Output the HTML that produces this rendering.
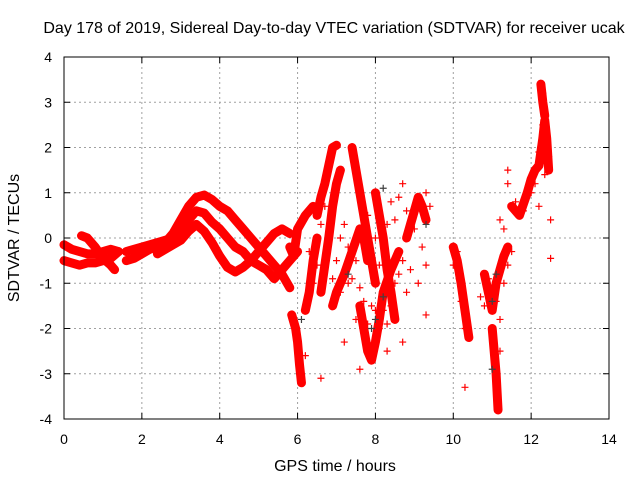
<!DOCTYPE html>
<html><head><meta charset="utf-8"><style>
body{margin:0;background:#fff}
svg{display:block;font-family:"Liberation Sans",sans-serif}
</style></head><body>
<svg id="c" width="640" height="480">
<rect width="640" height="480" fill="#fff"/>
<text x="334" y="33" font-size="16" text-anchor="middle">Day 178 of 2019, Sidereal Day-to-day VTEC variation (SDTVAR) for receiver ucak</text>
<text x="335" y="471" font-size="16" text-anchor="middle">GPS time / hours</text>
<text transform="translate(19,238) rotate(-90)" font-size="16" text-anchor="middle">SDTVAR / TECUs</text>
<g id="grid"></g><g id="marks"></g><g id="axes"></g>
</svg>
<script>
const xTicks=[0,2,4,6,8,10,12,14];
const yTicks=[-4,-3,-2,-1,0,1,2,3,4];
const arcA=[[0,-0.5],[0.2,-0.55],[0.4,-0.6],[0.6,-0.55],[0.8,-0.55],[1.0,-0.5],[1.2,-0.45],[1.4,-0.3]];
const arcB=[[0,-0.15],[0.2,-0.25],[0.4,-0.3],[0.6,-0.35],[0.8,-0.35],[1.0,-0.3],[1.2,-0.25],[1.4,-0.3]];
const arcC=[[0.45,0.05],[0.6,0],[0.8,-0.2],[1.0,-0.45],[1.2,-0.6],[1.3,-0.7]];
const arcD=[[1.6,-0.5],[1.8,-0.45],[2.0,-0.35],[2.2,-0.25],[2.4,-0.2],[2.6,-0.1],[2.8,0.1],[3.0,0.4],[3.2,0.7],[3.4,0.9],[3.6,0.95],[3.8,0.85],[4.0,0.7],[4.2,0.6],[4.4,0.4],[4.6,0.2],[4.8,0],[5.0,-0.2],[5.2,-0.4],[5.4,-0.6],[5.6,-0.8],[5.8,-1.1]];
const arcE=[[1.6,-0.3],[2.0,-0.2],[2.4,-0.1],[2.8,0],[3.0,0.2],[3.2,0.4],[3.4,0.6],[3.6,0.55],[3.8,0.35],[4.0,0.2],[4.2,0],[4.4,-0.2],[4.6,-0.3],[4.8,-0.5],[5.0,-0.6],[5.2,-0.7],[5.4,-0.9],[5.6,-0.7],[5.8,-0.5],[6.0,-0.3]];
const arcF=[[2.4,-0.35],[2.8,-0.15],[3.0,-0.05],[3.2,0.15],[3.4,0.3],[3.6,0.15],[3.8,-0.1],[4.0,-0.4],[4.2,-0.65],[4.4,-0.75],[4.6,-0.65],[4.8,-0.5],[5.0,-0.3],[5.2,-0.1],[5.4,0.1],[5.6,0.2],[5.8,0.1]];
const arcG=[[5.8,-0.2],[5.9,-0.4],[6.0,0.2],[6.2,0.5],[6.4,0.7]];
const arcH=[[5.85,-1.7],[5.95,-2.0],[6.0,-2.3],[6.05,-2.8],[6.1,-3.2]];
const arcI=[[6.2,-1.6],[6.3,-1.2],[6.4,-0.5],[6.5,0]];
const arcJ=[[6.5,0.5],[6.6,0.9],[6.7,1.2],[6.8,1.6],[6.9,2.0],[7.0,2.05]];
const arcK=[[6.6,-1.2],[6.7,-0.6],[6.8,0],[6.9,0.7],[7.0,1.2],[7.1,1.5]];
const arcL=[[6.9,-1.5],[7.0,-1.2],[7.2,-0.8],[7.4,-0.3],[7.6,0.2],[7.7,0.0],[7.8,-0.5]];
const arcM=[[7.4,2.0],[7.5,1.5],[7.6,1.0],[7.7,0.5],[7.8,0],[7.9,-0.5],[8.0,-1.0]];
const arcN=[[7.6,-1.5],[7.7,-2.0],[7.8,-2.5],[7.9,-2.7],[8.0,-2.3],[8.1,-1.8],[8.2,-1.2],[8.4,-0.7],[8.6,-0.3]];
const arcO=[[8.0,1.0],[8.1,0.5],[8.2,0],[8.3,-0.7],[8.4,-1.2],[8.5,-1.8]];
const arcP=[[8.8,0],[8.9,0.3],[9.0,0.6],[9.1,0.9],[9.2,0.7],[9.3,0.4]];
const arcQ=[[10.0,-0.2],[10.1,-0.5],[10.2,-1.0],[10.3,-1.6],[10.4,-2.2]];
const arcR=[[10.8,-0.8],[10.9,-1.2],[11.0,-1.6],[11.1,-1.0],[11.2,-0.7],[11.3,-0.4],[11.4,-0.2]];
const arcS=[[11.0,-2.0],[11.1,-3.0],[11.15,-3.8]];
const arcT=[[11.5,0.7],[11.7,0.5],[11.9,1.0],[12.0,1.3],[12.1,1.5],[12.2,1.6],[12.3,2.2],[12.35,2.6],[12.4,2.2],[12.45,1.5]];
const arcU=[[12.25,3.4],[12.3,3.0],[12.35,2.7]];
const arcs=[arcA,arcB,arcC,arcD,arcE,arcF,arcG,arcH,arcI,arcJ,arcK,arcL,arcM,arcN,arcO,arcP,arcQ,arcR,arcS,arcT,arcU];
const scatter=[[6.2,-2.6],[6.6,-3.1],[7.6,-2.9],[8.3,-2.5],[9.3,-1.7],[10.3,-3.3],[11.2,-2.5],[12.5,0.4],[12.5,-0.45],[11.4,1.5],[8.7,-2.3],[9.1,-1.0],[7.2,-2.3],
[6.4,-1.0],[6.5,-0.6],[6.3,-0.3],[6.6,0.3],[6.7,0.7],[6.9,-0.9],[7.0,-0.5],[7.1,0.0],[7.2,0.3],[7.3,-0.2],[7.3,-1.0],[7.1,-1.2],[7.4,-0.9],[7.5,-0.5],[7.6,-1.1],[7.5,-1.8],[7.7,-1.4],[7.8,-1.9],[7.9,-1.5],[8.0,-1.6],[8.1,-2.0],[8.2,-1.6],[8.3,-1.9],[8.4,-1.5],[8.5,-1.0],[8.6,-0.8],[8.7,-0.5],[8.8,-1.2],[8.9,-0.7],[8.3,0.3],[8.5,0.4],[8.6,0.9],[8.7,1.2],[8.4,0.8],[8.8,0.6],[9.0,0.2],[9.2,-0.2],[9.3,-0.6],[9.4,0.7],[9.3,1.0],[7.8,0.5],[8.0,0.0],[8.1,-0.6],
[10.0,-0.6],[10.1,-0.3],[10.2,-1.4],[10.15,-0.9],[10.3,-2.0],[10.7,-1.3],[10.8,-1.5],[10.9,-0.9],[11.0,-1.1],[11.1,-1.4],[11.2,-1.8],[11.3,-1.0],[11.4,-0.6],[11.5,-0.3],[11.3,0.2],[11.2,0.4],[11.4,1.2],[11.6,0.8],[11.8,0.6],[12.0,1.0],[12.1,1.2],[12.2,1.9],[12.3,2.5],[12.4,2.0],[12.45,1.8],[12.35,1.4],[12.2,0.7],[12.3,3.2]];
const graySeries=[[7.9,-2.0],[8.0,-1.8],[8.2,1.1],[8.2,-1.3],[9.3,0.3],[11.0,-1.4],[11.0,-2.9],[11.1,-0.8],[6.1,-1.8],[7.3,-0.8]];
const X0=64,X1=609,Y0=419,Y1=57;
const sx=t=>X0+(t-0)/(14-0)*(X1-X0);
const sy=v=>Y0-(v+4)/8*(Y0-Y1);
const NS="http://www.w3.org/2000/svg";
function mk(tag,attrs,parent){const e=document.createElementNS(NS,tag);for(const k in attrs)e.setAttribute(k,attrs[k]);parent.appendChild(e);return e;}
const grid=document.getElementById('grid'),marks=document.getElementById('marks'),axes=document.getElementById('axes');
xTicks.forEach(t=>{
 if(t>0&&t<14){const l=mk('line',{x1:sx(t),x2:sx(t),y1:Y1,y2:Y0,stroke:'#a0a0a0','stroke-dasharray':'2,3'},grid);
 
 }
 const tx=mk('text',{x:sx(t),y:Y0+25,'font-size':14,'text-anchor':'middle'},axes);tx.textContent=t;
 
 
 mk('line',{x1:sx(t),x2:sx(t),y1:Y0,y2:Y0-6,stroke:'#000'},axes);
 mk('line',{x1:sx(t),x2:sx(t),y1:Y1,y2:Y1+6,stroke:'#000'},axes);
});
yTicks.forEach(v=>{
 if(v>-4&&v<4){const l=mk('line',{x1:X0,x2:X1,y1:sy(v),y2:sy(v),stroke:'#a0a0a0','stroke-dasharray':'2,3'},grid);
 
 }
 const tx=mk('text',{x:X0-12,y:sy(v)+5,'font-size':14,'text-anchor':'end'},axes);tx.textContent=v;
 
 
 mk('line',{x1:X0,x2:X0+6,y1:sy(v),y2:sy(v),stroke:'#000'},axes);
 mk('line',{x1:X1,x2:X1-6,y1:sy(v),y2:sy(v),stroke:'#000'},axes);
});
const fr=mk('rect',{x:X0,y:Y1,width:X1-X0,height:Y0-Y1,fill:'none',stroke:'#000'},axes);


function plus(t,v,col){const x=sx(t),y=sy(v);
 const p=mk('path',{d:`M${x-3.5},${y}h7M${x},${y-3.5}v7`,stroke:col,'stroke-width':1.2},marks);
 
 }
arcs.forEach(a=>{
 const pl=mk('polyline',{points:a.map(p=>sx(p[0])+','+sy(p[1])).join(' '),fill:'none',stroke:'#ff0000','stroke-width':9,'stroke-linejoin':'round','stroke-linecap':'round'},marks);
 
 
 a.forEach(p=>plus(p[0],p[1],'#ff0000'));
});
scatter.forEach(p=>plus(p[0],p[1],'#ff0000'));
graySeries.forEach(p=>plus(p[0],p[1],'#404040'));
</script>
</body></html>
